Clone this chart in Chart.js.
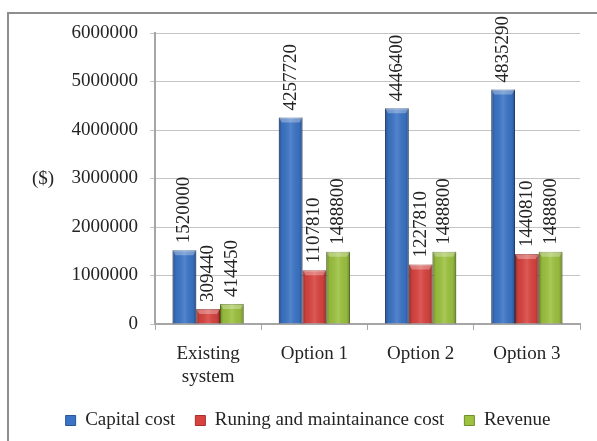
<!DOCTYPE html>
<html>
<head>
<meta charset="utf-8">
<script src="https://cdn.jsdelivr.net/npm/chart.js@4.4.1/dist/chart.umd.min.js"></script>
<style>
  html, body { margin: 0; padding: 0; background: #ffffff; }
  #wrap { position: relative; width: 597px; height: 441px; }
</style>
</head>
<body>
<div id="wrap"><canvas id="costChart" width="597" height="441"></canvas></div>
<script>
// cost comparison of the existing system against three options
const categories = [["Existing", "system"], "Option 1", "Option 2", "Option 3"];
const capitalCost = [1520000, 4257720, 4446400, 4835290];
const runningCost = [309440, 1107810, 1227810, 1440810];
const revenue = [414450, 1488800, 1488800, 1488800];
const yTicks = [0, 1000000, 2000000, 3000000, 4000000, 5000000, 6000000];

const serif = "'Liberation Serif', 'Times New Roman', serif";
const textColor = "#242424";
const fontSize = 19;

// frame around the whole chart + the "($)" axis caption
const framePlugin = {
  id: "frame",
  afterLayout(chart) {
    // legend sits centred on the whole frame, not on the padded area
    if (chart.legend) {
      chart.legend.left += 18;
      chart.legend.right += 18;
    }
  },
  beforeDraw(chart) {
    const ctx = chart.ctx;
    ctx.save();
    ctx.fillStyle = "#ffffff";
    ctx.fillRect(0, 0, chart.width, chart.height);
    ctx.strokeStyle = "#8e8e8e";
    ctx.lineWidth = 2;
    ctx.strokeRect(8, 13, chart.width + 20, chart.height + 20);
    ctx.restore();
  },
  afterDraw(chart) {
    const ctx = chart.ctx;
    ctx.save();
    ctx.font = fontSize + "px " + serif;
    ctx.fillStyle = textColor;
    ctx.textAlign = "center";
    ctx.textBaseline = "middle";
    ctx.fillText("($)", 43, 179);
    ctx.restore();
  }
};

// shading on the bars: darker sides, light middle, bevel on top
const shadePlugin = {
  id: "shade",
  afterDatasetsDraw(chart) {
    const ctx = chart.ctx;
    chart.data.datasets.forEach((ds, di) => {
      const meta = chart.getDatasetMeta(di);
      meta.data.forEach(bar => {
        const { x, y, base, width } = bar.getProps(["x", "y", "base", "width"], true);
        const left = x - width / 2;
        const h = base - y;
        ctx.save();
        const g = ctx.createLinearGradient(left, 0, left + width, 0);
        g.addColorStop(0, "rgba(0,0,0,0.30)");
        g.addColorStop(0.15, "rgba(0,0,0,0.05)");
        g.addColorStop(0.5, "rgba(255,255,255,0.12)");
        g.addColorStop(0.85, "rgba(0,0,0,0.05)");
        g.addColorStop(1, "rgba(0,0,0,0.30)");
        ctx.fillStyle = g;
        ctx.fillRect(left, y, width, h);
        // bevel
        const bh = Math.min(5, h);
        ctx.beginPath();
        ctx.moveTo(left, y);
        ctx.lineTo(left + width, y);
        ctx.lineTo(left + width - 3, y + bh);
        ctx.lineTo(left + 3, y + bh);
        ctx.closePath();
        ctx.fillStyle = "rgba(255,255,255,0.30)";
        ctx.fill();
        ctx.restore();
      });
    });
  }
};

// vertical value labels above each bar
const valueLabels = {
  id: "valueLabels",
  afterDatasetsDraw(chart) {
    const ctx = chart.ctx;
    ctx.save();
    ctx.font = fontSize + "px " + serif;
    ctx.fillStyle = textColor;
    ctx.textAlign = "left";
    ctx.textBaseline = "middle";
    chart.data.datasets.forEach((ds, di) => {
      const meta = chart.getDatasetMeta(di);
      meta.data.forEach((bar, i) => {
        const { x, y } = bar.getProps(["x", "y"], true);
        ctx.save();
        ctx.translate(x, y - 7);
        ctx.rotate(-Math.PI / 2);
        ctx.fillText(String(ds.data[i]), 0, 0);
        ctx.restore();
      });
    });
    ctx.restore();
  }
};

new Chart(document.getElementById("costChart"), {
  type: "bar",
  data: {
    labels: categories,
    datasets: [
      { label: "Capital cost", data: capitalCost, backgroundColor: "#3b74c6", borderColor: "#2c5595" },
      { label: "Runing and maintainance cost", data: runningCost, backgroundColor: "#d8433f", borderColor: "#a52f2c" },
      { label: "Revenue", data: revenue, backgroundColor: "#9cc23f", borderColor: "#6f8f2a" }
    ]
  },
  options: {
    responsive: false,
    animation: false,
    devicePixelRatio: 1,
    layout: { padding: { top: 33, left: 0, right: 17, bottom: 1 } },
    datasets: {
      bar: { categoryPercentage: 0.67, barPercentage: 1, borderWidth: 1 }
    },
    plugins: {
      legend: {
        position: "bottom",
        labels: {
          boxWidth: 10,
          boxHeight: 10,
          padding: 20,
          color: textColor,
          font: { family: serif, size: fontSize }
        }
      },
      tooltip: { enabled: false }
    },
    scales: {
      x: {
        grid: { display: true, drawOnChartArea: false, tickLength: 6, color: "#a6a6a6" },
        border: { color: "#a6a6a6", width: 2 },
        ticks: { color: textColor, font: { family: serif, size: fontSize }, padding: 13, maxRotation: 0 },
        afterFit(scale) { scale.height = 67; }
      },
      y: {
        min: 0,
        max: 6000000,
        afterBuildTicks(scale) { scale.ticks = yTicks.map(v => ({ value: v })); },
        grid: { color: "#c4c4c4", tickLength: 5 },
        border: { color: "#a6a6a6", width: 2 },
        ticks: {
          color: textColor,
          font: { family: serif, size: fontSize },
          padding: 12,
          callback: v => String(v)
        },
        afterFit(scale) { scale.width = 155; }
      }
    }
  },
  plugins: [framePlugin, shadePlugin, valueLabels]
});
</script>
</body>
</html>
